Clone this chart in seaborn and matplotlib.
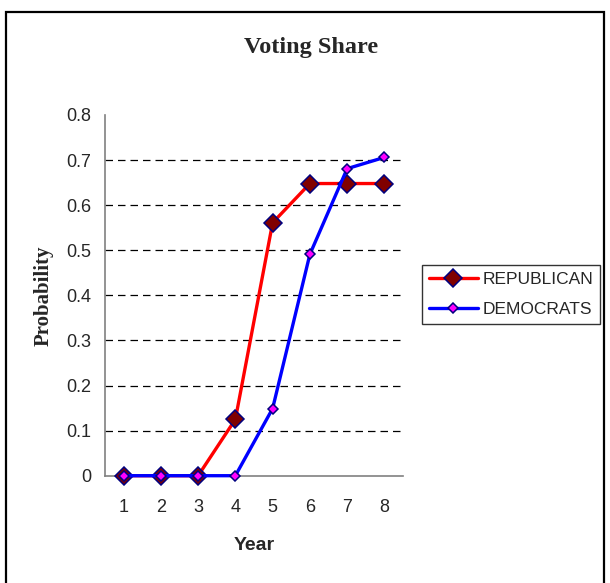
import matplotlib
matplotlib.use("Agg")
import matplotlib.pyplot as plt
import seaborn as sns
import pandas as pd
from matplotlib.patches import Rectangle

years = [1, 2, 3, 4, 5, 6, 7, 8]
republican = [0.0, 0.0, 0.0, 0.125, 0.561, 0.648, 0.648, 0.648]
democrats = [0.0, 0.0, 0.0, 0.0, 0.149, 0.491, 0.681, 0.706]
y_ticks = [0, 0.1, 0.2, 0.3, 0.4, 0.5, 0.6, 0.7, 0.8]
y_tick_labels = ["0", "0.1", "0.2", "0.3", "0.4", "0.5", "0.6", "0.7", "0.8"]

df = pd.DataFrame({
    "Year": years * 2,
    "Probability": republican + democrats,
    "Party": ["REPUBLICAN"] * len(years) + ["DEMOCRATS"] * len(years),
})

sns.set_style("white")
plt.rcParams["font.family"] = ["Liberation Sans", "DejaVu Sans"]

fig = plt.figure(figsize=(6.10, 5.83), dpi=100)
ax = fig.add_axes([105 / 610, 1 - 475.7 / 583, (403 - 105) / 610, (475.7 - 115) / 583])

# horizontal dashed gridlines (none at the top value)
for yv in y_ticks[1:-1]:
    ax.axhline(yv, color="black", lw=0.9, ls=(0, (6, 4)), zorder=0)

styles = {
    "REPUBLICAN": dict(color="#ff0000", mfc="#800000", ms=9.5),
    "DEMOCRATS": dict(color="#0000ff", mfc="#ff00ff", ms=5.5),
}
for party in ["REPUBLICAN", "DEMOCRATS"]:
    st = styles[party]
    sns.lineplot(
        data=df[df["Party"] == party], x="Year", y="Probability",
        ax=ax, color=st["color"], lw=2.4, marker="D",
        markersize=st["ms"], markerfacecolor=st["mfc"],
        markeredgecolor="#000080", markeredgewidth=1.1,
        label=party, zorder=3, clip_on=False,
    )

ax.set_xlim(0.5, 8.5)
ax.set_ylim(0, 0.8)
ax.set_yticks(y_ticks)
ax.set_yticklabels(y_tick_labels, fontsize=13)
ax.set_xticks(years)
ax.set_xticklabels([str(y) for y in years], fontsize=13)
ax.set_xticks([y + 0.5 for y in [0] + years], minor=True)
ax.tick_params(axis="x", which="major", length=0, pad=17)
ax.tick_params(axis="x", which="minor", length=5, width=1, color="#808080", direction="out")
ax.tick_params(axis="y", which="major", length=5, width=1, color="#808080", direction="out", pad=5)

for side in ["top", "right"]:
    ax.spines[side].set_visible(False)
for side in ["left", "bottom"]:
    ax.spines[side].set_color("#808080")
    ax.spines[side].set_linewidth(1.2)

ax.set_xlabel("Year", fontsize=14, fontweight="bold", labelpad=15)
ax.set_ylabel("Probability", fontsize=15, fontweight="bold",
              family=["Liberation Serif", "DejaVu Serif"], labelpad=9)

fig.text(311 / 610, 1 - 47 / 583, "Voting Share", ha="center", va="center",
         fontsize=17.5, fontweight="bold", family=["Liberation Serif", "DejaVu Serif"])

leg = ax.legend(loc="center left", bbox_to_anchor=(422 / 610, 1 - 294.5 / 583),
                bbox_transform=fig.transFigure, borderaxespad=0, fontsize=12.5,
                frameon=True, fancybox=False, edgecolor="black", handlelength=2.8,
                borderpad=0.4, labelspacing=0.9, handletextpad=0.3)
leg.get_frame().set_linewidth(1.0)

# outer chart border
fig.patches.append(Rectangle((6 / 610, -0.05), (604 - 6) / 610, (583 - 12) / 583 + 0.05,
                             transform=fig.transFigure, fill=False,
                             edgecolor="black", lw=1.6))

fig.savefig("out.png", dpi=100, facecolor="white")
